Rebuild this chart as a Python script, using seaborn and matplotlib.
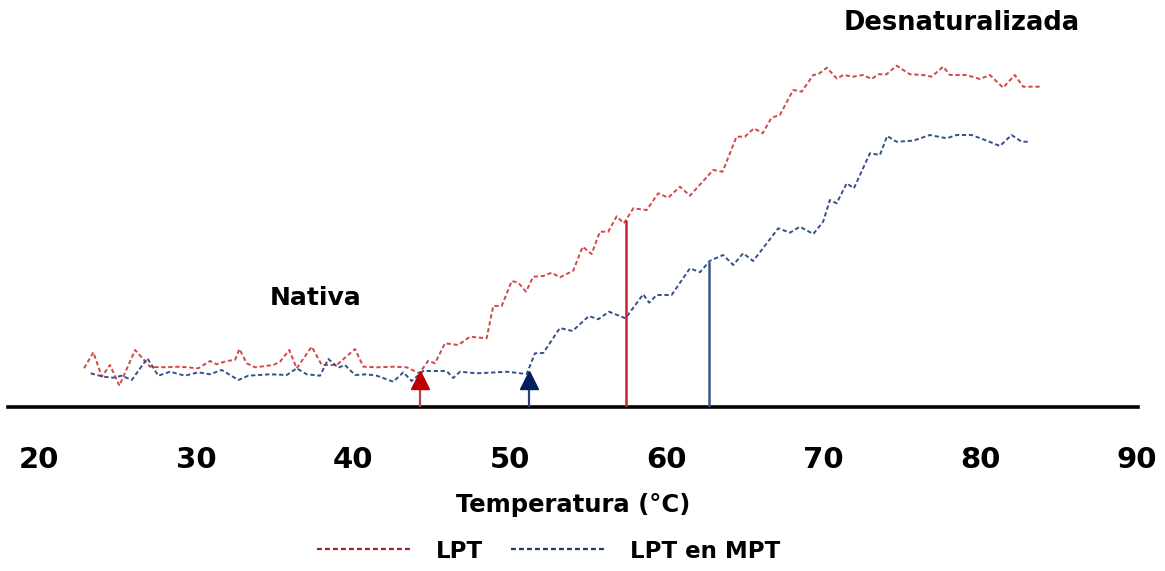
import numpy as np
import pandas as pd
import matplotlib
matplotlib.use("Agg")
import matplotlib.pyplot as plt
from matplotlib.lines import Line2D
import seaborn as sns

# Señal de desnaturalización frente a temperatura (unidades arbitrarias)
temp_lpt = [22.87, 23.46, 24.00, 24.52, 25.12, 26.12, 27.07, 27.71, 28.99, 30.15,
            30.90, 31.32, 31.96, 32.49, 32.77, 33.24, 33.77, 34.93, 35.36, 35.95,
            36.42, 37.38, 38.02, 38.97, 40.14, 40.67, 41.52, 42.58, 43.43, 44.24,
            44.81, 45.24, 45.87, 46.72, 47.47, 48.53, 48.95, 49.49, 50.13, 50.55,
            51.04, 51.50, 52.14, 52.67, 53.20, 54.05, 54.65, 55.22, 55.75, 56.28,
            56.82, 57.28, 57.88, 58.73, 59.47, 60.10, 60.85, 61.49, 62.97, 63.57,
            64.46, 64.99, 65.57, 66.12, 66.69, 67.22, 68.07, 68.61, 69.35, 69.66,
            70.22, 70.86, 71.26, 71.90, 72.53, 73.07, 73.49, 74.02, 74.66, 75.51,
            76.36, 76.89, 77.63, 78.06, 79.12, 79.97, 80.61, 81.45, 82.20, 82.73,
            83.90]
senal_lpt = [3.87, 5.47, 3.03, 4.20, 2.13, 5.70, 4.03, 3.97, 4.03, 3.87,
             4.60, 4.27, 4.60, 4.70, 5.80, 4.37, 3.97, 4.20, 4.53, 5.70,
             3.87, 6.03, 4.20, 4.20, 5.80, 4.03, 3.97, 4.03, 3.97, 3.37,
             4.63, 4.37, 6.37, 6.20, 7.03, 6.87, 10.10, 10.10, 12.60, 12.43,
             11.53, 13.03, 13.10, 13.43, 12.97, 13.63, 16.03, 15.30, 17.53, 17.53,
             19.07, 18.37, 19.87, 19.70, 21.37, 20.93, 22.03, 21.13, 23.70, 23.53,
             27.03, 27.03, 27.87, 27.37, 28.93, 29.20, 31.70, 31.53, 33.20, 33.27,
             33.93, 32.83, 33.20, 33.03, 33.20, 32.80, 33.27, 33.27, 34.13, 33.27,
             33.20, 33.03, 34.03, 33.20, 33.20, 32.80, 33.20, 31.93, 33.20, 32.03,
             32.03]

temp_mpt = [23.29, 24.10, 24.74, 25.27, 25.91, 26.90, 27.60, 28.35, 29.30, 30.15,
            30.90, 31.64, 32.70, 33.34, 34.72, 35.79, 36.42, 37.06, 37.91, 38.44,
            39.07, 39.50, 40.14, 40.88, 41.52, 42.58, 43.22, 43.75, 44.49, 45.98,
            46.40, 46.83, 47.89, 48.74, 49.81, 51.08, 51.61, 52.14, 53.20, 54.00,
            55.05, 55.64, 56.33, 57.38, 58.51, 58.89, 59.37, 60.32, 61.49, 62.13,
            62.76, 63.61, 64.25, 64.88, 65.52, 67.12, 67.86, 68.50, 69.35, 69.98,
            70.41, 70.84, 71.48, 71.94, 72.96, 73.60, 74.06, 74.66, 75.72, 76.78,
            77.85, 78.49, 79.44, 80.41, 81.25, 81.99, 82.63, 83.06]
senal_mpt = [3.37, 3.03, 2.93, 3.13, 2.70, 4.87, 3.13, 3.53, 3.13, 3.47,
             3.27, 3.70, 2.70, 3.13, 3.27, 3.20, 3.87, 3.27, 3.13, 4.80,
             3.93, 4.20, 3.20, 3.27, 3.13, 2.53, 3.47, 2.60, 3.60, 3.60,
             2.90, 3.53, 3.37, 3.43, 3.53, 3.30, 5.37, 5.40, 7.90, 7.60,
             9.10, 8.77, 9.53, 8.87, 11.27, 10.43, 11.20, 11.20, 13.87, 13.48,
             14.62, 15.20, 14.20, 15.37, 14.60, 17.87, 17.43, 18.03, 17.30, 18.53,
             20.70, 20.37, 22.37, 21.87, 25.37, 25.20, 27.10, 26.53, 26.63, 27.20,
             26.87, 27.20, 27.20, 26.63, 26.10, 27.20, 26.53, 26.53]

series = ["LPT", "LPT en MPT"]
# Temperatura de inicio de la transición y temperatura media (Tm)
t_inicio = [44.28, 51.23]
t_media = [57.40, 62.70]
ticks_x = [20, 30, 40, 50, 60, 70, 80, 90]

col_linea = {"LPT": "#d04848", "LPT en MPT": "#34508e"}
col_leyenda = {"LPT": "#a3201f", "LPT en MPT": "#1f3a70"}
col_marca = {"LPT": "#c00000", "LPT en MPT": "#002060"}
col_vert = {"LPT": "#c4262b", "LPT en MPT": "#3a5688"}
col_tallo = {"LPT": "#b04848", "LPT en MPT": "#2b4270"}
guion = (0, (2.2, 1.4))

df = pd.concat([
    pd.DataFrame({"Temperatura": temp_lpt, "Señal": senal_lpt, "Muestra": "LPT"}),
    pd.DataFrame({"Temperatura": temp_mpt, "Señal": senal_mpt, "Muestra": "LPT en MPT"}),
], ignore_index=True)

sns.set_theme(style="white")
plt.rcParams["font.family"] = ["DejaVu Sans"]
plt.rcParams["text.color"] = "black"
plt.rcParams["axes.labelcolor"] = "black"
plt.rcParams["xtick.color"] = "black"

fig = plt.figure(figsize=(11.65, 5.71), dpi=100)
ax = fig.add_axes([8 / 1165, 164 / 571, 1130 / 1165, 407 / 571])

for nombre in series:
    sub = df[df["Muestra"] == nombre]
    sns.lineplot(data=sub, x="Temperatura", y="Señal", ax=ax,
                 color=col_linea[nombre], linewidth=1.4,
                 linestyle=guion, legend=False)

for i, nombre in enumerate(series):
    sub = df[df["Muestra"] == nombre]
    # línea vertical en Tm hasta la curva
    y_tm = np.interp(t_media[i], sub["Temperatura"], sub["Señal"])
    ax.vlines(t_media[i], 0, y_tm, color=col_vert[nombre], linewidth=1.8, zorder=3)
    # flecha de inicio de la transición
    ax.vlines(t_inicio[i], 0, 2.0, color=col_tallo[nombre], linewidth=1.6, zorder=3)
    ax.plot([t_inicio[i]], [2.75], marker="^", markersize=13,
            color=col_marca[nombre], linestyle="none", zorder=4)

ax.set_xlim(18.02, 90.05)
ax.set_ylim(0, 40.7)
ax.set_xticks(ticks_x)
ax.set_xticklabels([str(t) for t in ticks_x], fontsize=21, fontweight="bold",
                   color="black")
ax.set_yticks([])
ax.tick_params(axis="x", length=0, pad=28)
for lado in ["top", "right", "left"]:
    ax.spines[lado].set_visible(False)
ax.spines["bottom"].set_color("black")
ax.spines["bottom"].set_linewidth(2.6)
ax.set_ylabel("")
ax.set_xlabel("Temperatura (°C)", fontsize=17.5, fontweight="bold", labelpad=14,
              color="black")

ax.text(37.6, 10.9, "Nativa", fontsize=18, fontweight="bold",
        ha="center", va="center", color="black")
ax.text(78.8, 38.4, "Desnaturalizada", fontsize=18.5, fontweight="bold",
        ha="center", va="center", color="black")

handles = [Line2D([], [], color=col_leyenda[n], linewidth=1.6, linestyle=guion)
           for n in series]
leg = fig.legend(handles, series, loc="center", bbox_to_anchor=(0.471, 0.035),
                 ncol=2, frameon=False, handlelength=4.2, handletextpad=1.0,
                 columnspacing=1.2, prop={"size": 16.5, "weight": "bold"})
for t in leg.get_texts():
    t.set_color("black")

fig.savefig("out.png", dpi=100)
